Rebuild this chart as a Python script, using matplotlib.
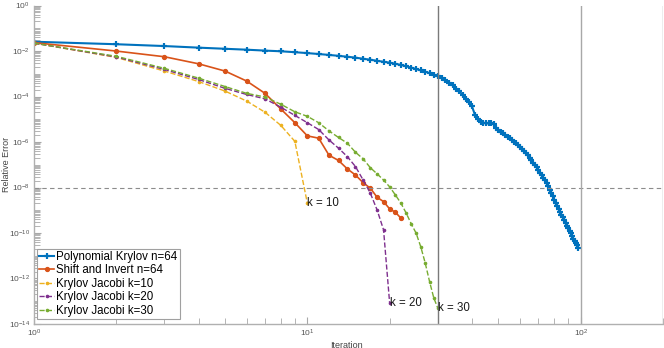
import numpy as np
import matplotlib
matplotlib.use("Agg")
import matplotlib.pyplot as plt
from matplotlib.ticker import LogLocator, NullFormatter, FixedLocator

plt.rcParams['font.family'] = ['Liberation Sans', 'DejaVu Sans']
plt.rcParams['mathtext.default'] = 'regular'

# log10 of the relative error
poly_log10 = [-1.59, -1.70, -1.78, -1.85, -1.90, -1.94, -1.98, -2.01, -2.05, -2.09,
              -2.13, -2.17, -2.21, -2.25, -2.29, -2.34, -2.38, -2.43, -2.47, -2.51,
              -2.56, -2.61, -2.67, -2.73, -2.79, -2.85, -2.91, -2.97, -3.04, -3.11,
              -3.19, -3.29, -3.39, -3.51, -3.65, -3.77, -3.93, -4.11, -4.26, -4.43,
              -4.79, -4.99, -5.12, -5.15, -5.18, -5.18, -5.18, -5.22, -5.38, -5.49,
              -5.56, -5.62, -5.70, -5.76, -5.83, -5.91, -5.98, -6.06, -6.13, -6.21,
              -6.30, -6.39, -6.49, -6.59, -6.70, -6.80, -6.90, -7.00, -7.11, -7.23,
              -7.34, -7.46, -7.58, -7.69, -7.82, -7.95, -8.09, -8.24, -8.39, -8.55,
              -8.69, -8.81, -8.94, -9.07, -9.20, -9.31, -9.43, -9.56, -9.67, -9.79,
              -9.91, -10.02, -10.13, -10.25, -10.35, -10.43, -10.54, -10.64]
shift_log10 = [-1.63, -2.00, -2.25, -2.56, -2.88, -3.32, -3.86, -4.55, -5.15, -5.73,
               -5.83, -6.58, -6.81, -7.18, -7.45, -7.79, -8.03, -8.43, -8.62, -8.94,
               -9.09, -9.35]
jac10_log10 = [-1.65, -2.28, -2.88, -3.34, -3.76, -4.20, -4.69, -5.27, -5.97, -8.69]
jac20_log10 = [-1.65, -2.26, -2.81, -3.25, -3.64, -3.91, -4.10, -4.47, -4.83, -5.15,
               -5.45, -5.91, -6.27, -6.64, -7.08, -7.67, -8.25, -8.99, -9.86, -13.08]
jac30_log10 = [-1.65, -2.23, -2.76, -3.19, -3.56, -3.86, -4.02, -4.34, -4.67, -4.87,
               -5.15, -5.51, -5.80, -6.05, -6.45, -6.74, -7.13, -7.40, -7.67, -7.97,
               -8.33, -8.69, -9.13, -9.60, -10.01, -10.61, -11.33, -12.14, -12.85, -13.30]

labels = ['Polynomial Krylov n=64', 'Shift and Invert n=64',
          'Krylov Jacobi k=10', 'Krylov Jacobi k=20', 'Krylov Jacobi k=30']
tol = 1e-8
vlines = [30, 100, 200]

fig = plt.figure(figsize=(6.64, 3.48), dpi=100)
ax = fig.add_axes([0.0512, 0.069, 0.9473, 0.915])

def it(a):
    return np.arange(1, len(a) + 1)

ax.plot(it(poly_log10), 10.0 ** np.array(poly_log10), '-', color='#0072BD', lw=1.5,
        marker=(4, 2, 0), ms=4.5, mew=1.5, label=labels[0])
ax.plot(it(shift_log10), 10.0 ** np.array(shift_log10), '-o', color='#D95319', lw=1.2,
        ms=2.8, label=labels[1])
ax.plot(it(jac10_log10), 10.0 ** np.array(jac10_log10), '--.', color='#EDB120', lw=1.0,
        ms=3.2, label=labels[2])
ax.plot(it(jac20_log10), 10.0 ** np.array(jac20_log10), '--.', color='#7E2F8E', lw=1.0,
        ms=3.2, label=labels[3])
ax.plot(it(jac30_log10), 10.0 ** np.array(jac30_log10), '--.', color='#77AC30', lw=1.0,
        ms=3.2, label=labels[4])

ax.axhline(tol, color='#8c8c8c', ls='--', lw=0.8, dashes=(4, 3))
for v, c in zip(vlines, ['#7a7a7a', '#a8a8a8', '#a8a8a8']):
    ax.axvline(v, color=c, lw=1.0)

for k, arr in zip([10, 20, 30], [jac10_log10, jac20_log10, jac30_log10]):
    ax.text(k, 10.0 ** arr[-1], 'k = %d' % k, ha='left', va='center', fontsize=8.3,
            color='#1a1a1a')

ax.set_xscale('log')
ax.set_yscale('log')
ax.set_xlim(1, 200)
ax.set_ylim(1e-14, 1)

ax.yaxis.set_major_locator(FixedLocator([10.0 ** e for e in range(-14, 1, 2)]))
ax.yaxis.set_minor_locator(LogLocator(base=10, subs=np.arange(1, 10), numticks=30))
ax.yaxis.set_minor_formatter(NullFormatter())
ax.xaxis.set_minor_locator(LogLocator(base=10, subs=np.arange(2, 10), numticks=30))
ax.xaxis.set_minor_formatter(NullFormatter())

for s in ['top', 'right']:
    ax.spines[s].set_visible(False)
for s in ['left', 'bottom']:
    ax.spines[s].set_color('#b0b0b0')
    ax.spines[s].set_linewidth(1.0)
ax.tick_params(which='both', direction='in', colors='#a8a8a8', labelcolor='#555555',
               labelsize=6)
ax.tick_params(which='major', length=5, pad=3)
ax.tick_params(which='minor', length=4)

ax.set_xlabel('Iteration', fontsize=6.5, color='#444444')
ax.set_ylabel('Relative Error', fontsize=6.5, color='#444444')
ax.xaxis.set_label_coords(0.497, -0.052)
ax.yaxis.set_label_coords(-0.037, 0.5)

leg = ax.legend(loc='lower left', bbox_to_anchor=(0.005, 0.016), borderaxespad=0,
                fontsize=8.3, fancybox=False, framealpha=1, edgecolor='#a0a0a0',
                handlelength=1.3, handletextpad=0.15, labelspacing=0.12,
                borderpad=0.2)
leg.get_frame().set_linewidth(0.8)

fig.savefig('out.png', dpi=100)
